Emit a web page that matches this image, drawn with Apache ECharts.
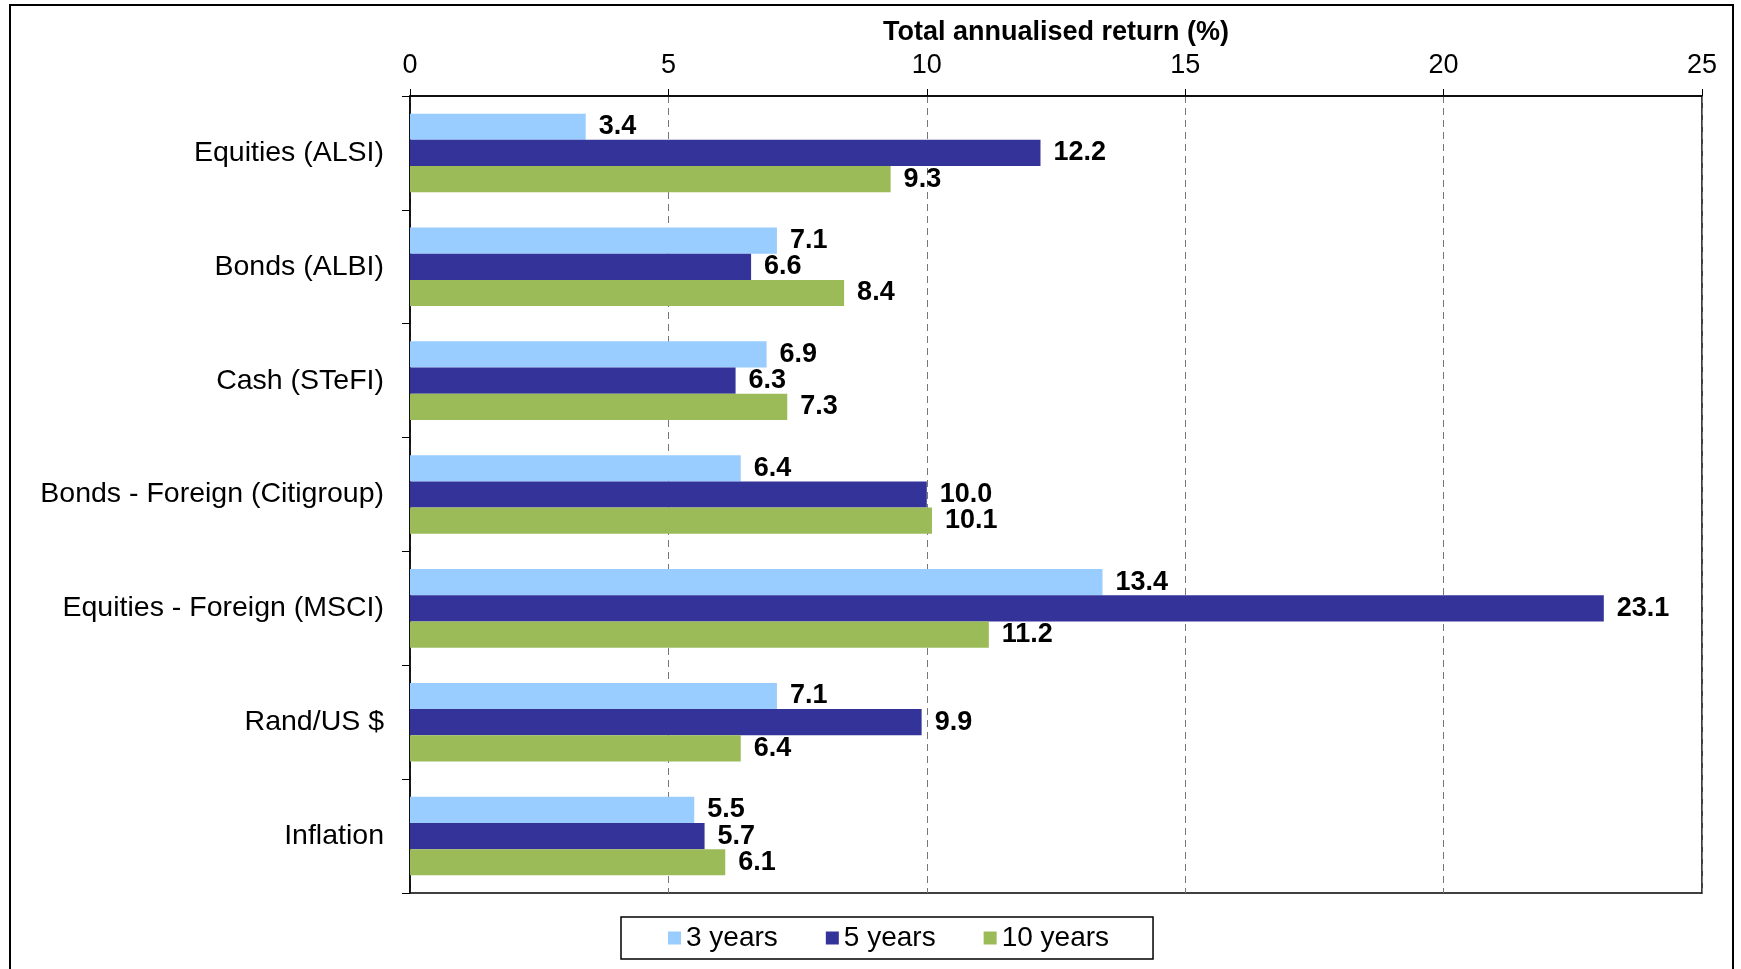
<!DOCTYPE html>
<html>
<head>
<meta charset="utf-8">
<script src="https://cdn.jsdelivr.net/npm/echarts@6/dist/echarts.min.js"></script>
<style>
  html, body { margin: 0; padding: 0; background: #fff; }
  #chart { width: 1741px; height: 969px; }
</style>
</head>
<body>
<div id="chart"></div>
<script>
// categories, top to bottom
const categories = ['Equities (ALSI)', 'Bonds (ALBI)', 'Cash (STeFI)', 'Bonds - Foreign (Citigroup)',
    'Equities - Foreign (MSCI)', 'Rand/US $', 'Inflation'];
const years3 = [3.4, 7.1, 6.9, 6.4, 13.4, 7.1, 5.5];
const years5 = [12.2, 6.6, 6.3, 10.0, 23.1, 9.9, 5.7];
const years10 = [9.3, 8.4, 7.3, 10.1, 11.2, 6.4, 6.1];
const seriesNames = ['3 years', '5 years', '10 years'];
const xTicks = [0, 5, 10, 15, 20, 25];

// 线条颜色
const colors = ['#99ccff', '#333399', '#9bbb59'];
const font = '"Liberation Sans", Arial, sans-serif';

function makeSeries(name, data, index) {
    return {
        name: name,
        type: 'bar',
        data: data,
        barGap: '0%',
        barCategoryGap: '31%',
        itemStyle: { color: colors[index] },
        label: {
            show: true,
            position: 'right',
            distance: 13,
            formatter: function (p) { return p.value.toFixed(1); },
            fontFamily: font,
            fontSize: 27,
            fontWeight: 'bold',
            color: '#000'
        }
    };
}

var myChart = echarts.init(document.getElementById('chart'));
var option = {
    animation: false,
    textStyle: { fontFamily: font },
    graphic: [{
        type: 'rect',
        shape: { x: 10, y: 5, width: 1723, height: 1000 },
        style: { fill: 'none', stroke: '#000', lineWidth: 2 },
        silent: true
    }],
    grid: {
        left: 410,
        right: 39,
        top: 96,
        bottom: 76,
        show: true,
        borderColor: '#000',
        borderWidth: 1.5
    },
    legend: {
        data: seriesNames,
        bottom: 10,
        left: 621,
        icon: 'rect',
        itemWidth: 13,
        itemHeight: 13,
        itemGap: 48,
        padding: [7, 44, 7, 47],
        borderColor: '#000',
        borderWidth: 1.5,
        textStyle: { fontFamily: font, fontSize: 28, color: '#000' }
    },
    xAxis: {
        type: 'value',
        position: 'top',
        min: xTicks[0],
        max: xTicks[xTicks.length - 1],
        interval: 5,
        name: 'Total annualised return (%)',
        nameLocation: 'middle',
        nameGap: 50,
        nameTextStyle: { fontFamily: font, fontSize: 27, fontWeight: 'bold', color: '#000' },
        axisLine: { show: true, lineStyle: { color: '#000', width: 1.5 } },
        axisTick: { show: true, length: 7, lineStyle: { color: '#000' } },
        axisLabel: { fontFamily: font, fontSize: 27, color: '#000', margin: 17 },
        splitLine: { show: true, lineStyle: { color: '#777', type: [7, 5], width: 1 } }
    },
    yAxis: {
        type: 'category',
        data: categories,
        inverse: true,
        axisLine: { show: true, lineStyle: { color: '#000', width: 1.5 } },
        axisTick: { show: true, length: 8, lineStyle: { color: '#000' } },
        axisLabel: { fontFamily: font, fontSize: 28.5, color: '#000', margin: 26 }
    },
    series: [
        makeSeries(seriesNames[0], years3, 0),
        makeSeries(seriesNames[1], years5, 1),
        makeSeries(seriesNames[2], years10, 2)
    ]
};
myChart.setOption(option);
</script>
</body>
</html>
